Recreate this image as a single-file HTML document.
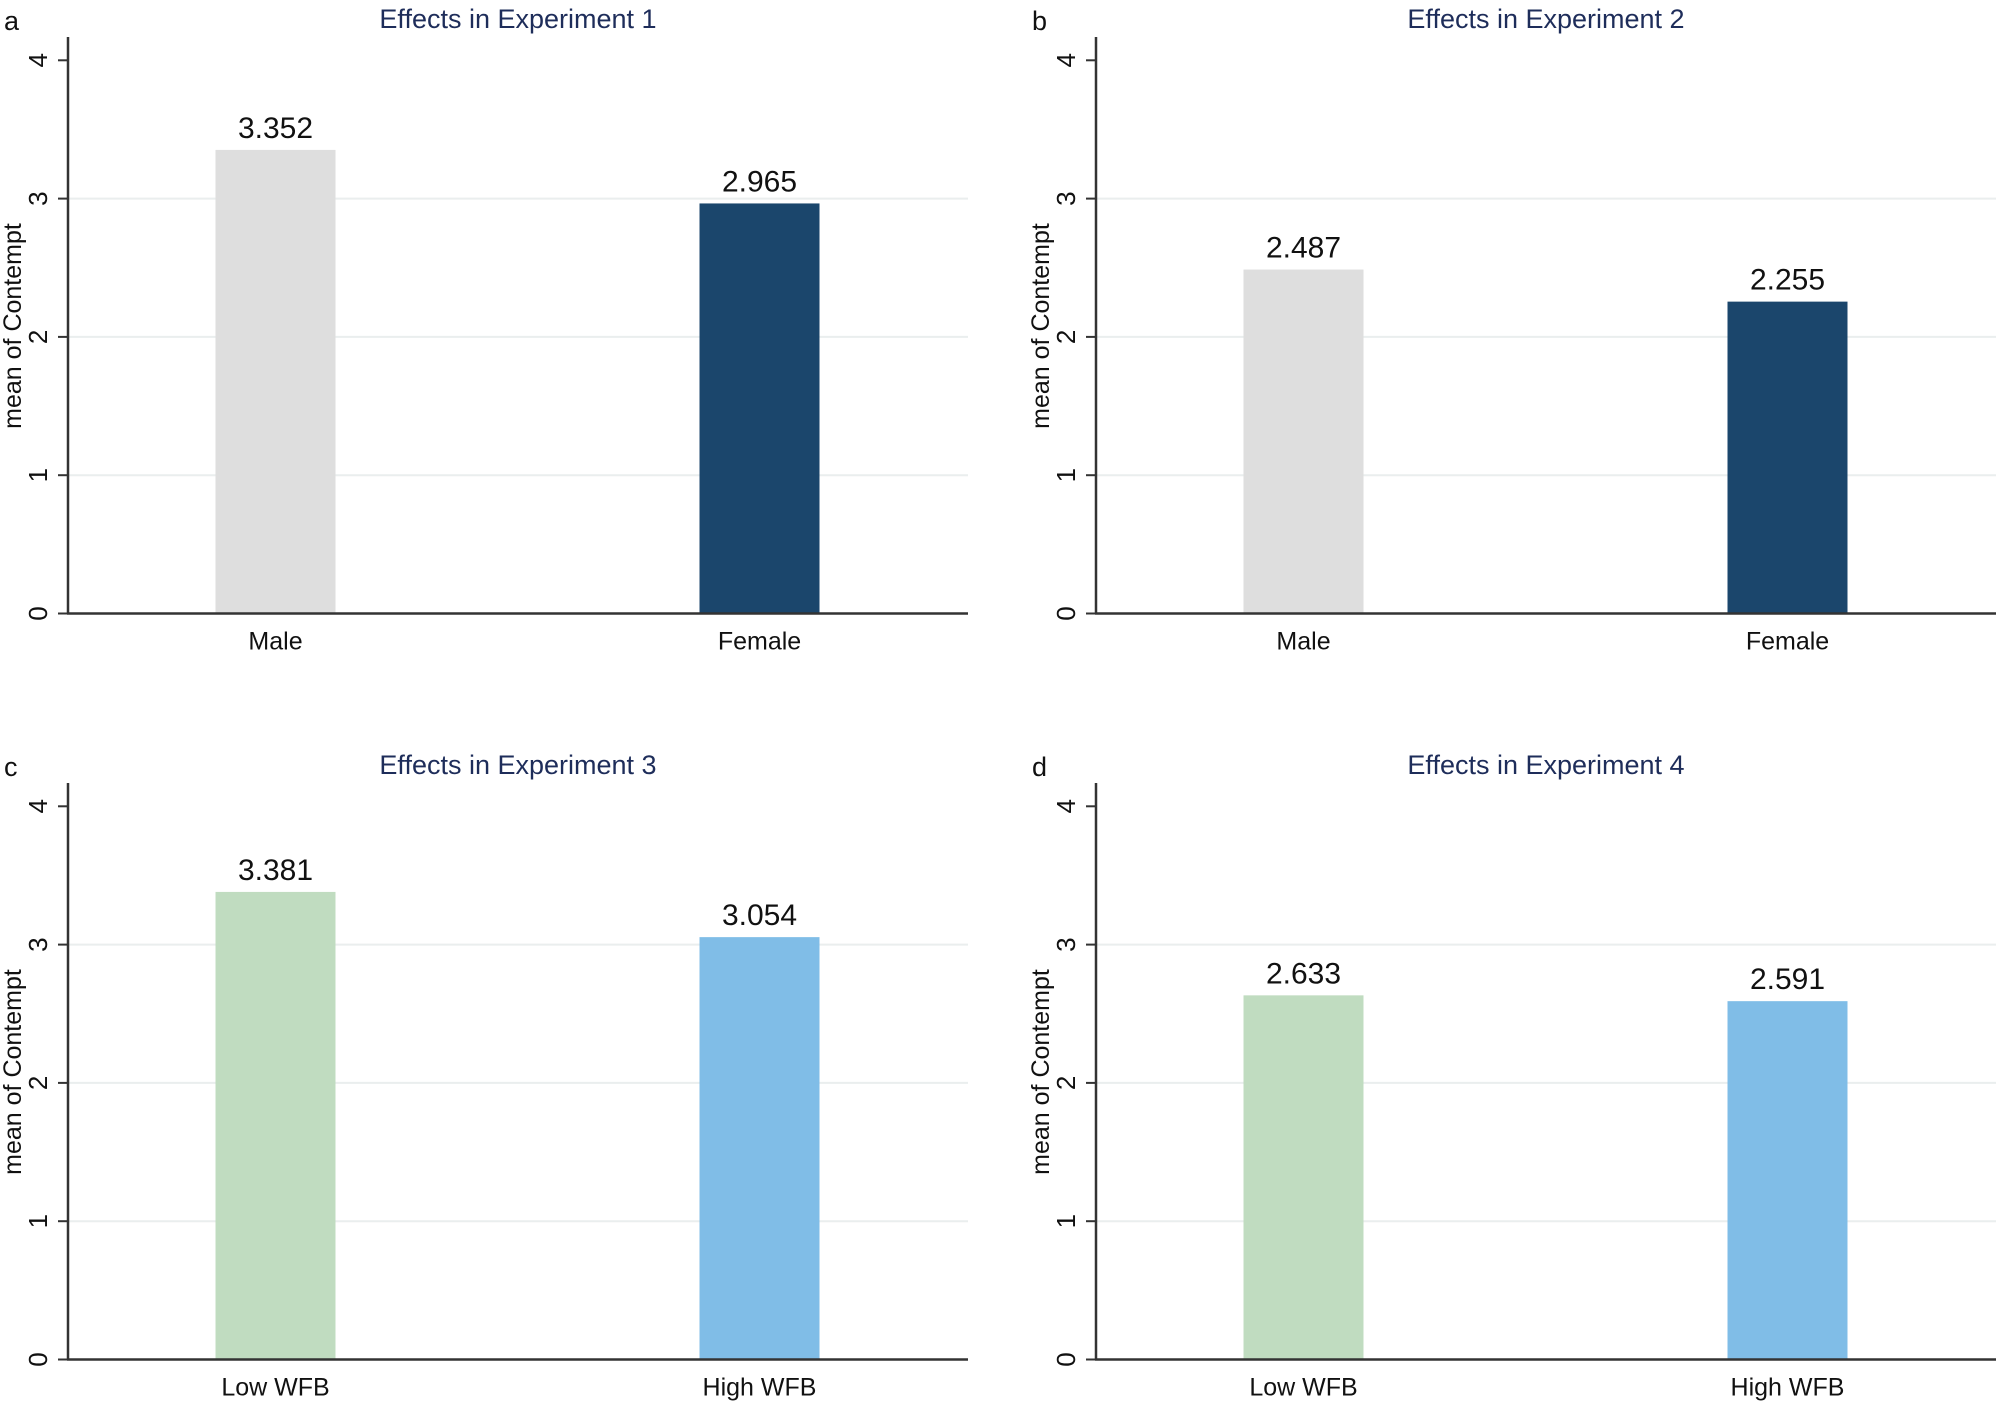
<!DOCTYPE html>
<html><head><meta charset="utf-8"><style>
html,body{margin:0;padding:0;background:#fff;}
svg{display:block;font-family:"Liberation Sans",Arial,sans-serif;}
</style></head><body>
<svg id="chart" width="2000" height="1405" viewBox="0 0 2000 1405" xmlns="http://www.w3.org/2000/svg"></svg>
<script>
const panelLetters = ["a","b","c","d"];
const panelTitles = ["Effects in Experiment 1","Effects in Experiment 2","Effects in Experiment 3","Effects in Experiment 4"];
const catsGender = ["Male","Female"];
const catsWFB = ["Low WFB","High WFB"];
const values1 = [3.352, 2.965];
const values2 = [2.487, 2.255];
const values3 = [3.381, 3.054];
const values4 = [2.633, 2.591];
const valueLabels1 = ["3.352","2.965"];
const valueLabels2 = ["2.487","2.255"];
const valueLabels3 = ["3.381","3.054"];
const valueLabels4 = ["2.633","2.591"];
const yTicks = [0,1,2,3,4];

const NS="http://www.w3.org/2000/svg";
const svg=document.getElementById('chart');
function mk(tag,attrs,parent){const e=document.createElementNS(NS,tag);for(const k in attrs)e.setAttribute(k,attrs[k]);(parent||svg).appendChild(e);return e;}

const panels=[
 {ox:0, oy:0, cats:catsGender, vals:values1, labs:valueLabels1, colors:["#dedede","#1b466c"]},
 {ox:1028, oy:0, cats:catsGender, vals:values2, labs:valueLabels2, colors:["#dedede","#1b466c"]},
 {ox:0, oy:746, cats:catsWFB, vals:values3, labs:valueLabels3, colors:["#c0dcc0","#80bde7"]},
 {ox:1028, oy:746, cats:catsWFB, vals:values4, labs:valueLabels4, colors:["#c0dcc0","#80bde7"]}
];

panels.forEach((p,i)=>{
  const g=mk('g',{transform:`translate(${p.ox},${p.oy})`});
  
  
  const axX=68, axR=968, y0=613.5, unit=138.3, axTop=37;
  const yS=v=>y0-v*unit;
  const centers=[275.5,759.5], bw=120;
  yTicks.forEach(t=>{
    if(t>0&&t<4){const gl=mk('line',{x1:axX,x2:axR,y1:yS(t),y2:yS(t),stroke:'#eaeeee','stroke-width':2},g);
      
      }
  });
  p.vals.forEach((v,j)=>{
    const r=mk('rect',{x:centers[j]-bw/2,y:yS(v),width:bw,height:y0-yS(v),fill:p.colors[j]},g);
    
    
    const t=mk('text',{x:centers[j],y:yS(v)-12,'text-anchor':'middle','font-size':30,fill:'#111'},g);
    t.textContent=p.labs[j];
    
    
    const xl=mk('text',{x:centers[j],y:y0+36,'text-anchor':'middle','font-size':25,fill:'#111'},g);
    xl.textContent=p.cats[j];
    
    
  });
  const ya=mk('line',{x1:axX,x2:axX,y1:axTop,y2:y0+1,stroke:'#333','stroke-width':2.5},g);
  
  
  const xa=mk('line',{x1:axX-1,x2:axR,y1:y0,y2:y0,stroke:'#333','stroke-width':2.5},g);
  
  
  yTicks.forEach(t=>{
    const tk=mk('line',{x1:axX-10,x2:axX,y1:yS(t),y2:yS(t),stroke:'#333','stroke-width':2},g);
    
    
    const tl=mk('text',{x:0,y:0,'text-anchor':'middle','font-size':26,fill:'#111',transform:`translate(47,${yS(t)}) rotate(-90)`},g);
    tl.textContent=String(t);
    
    
  });
  const yt=mk('text',{x:0,y:0,'text-anchor':'middle','font-size':25,fill:'#111',transform:`translate(21,326) rotate(-90)`},g);
  yt.textContent='mean of Contempt';
  
  
  const tt=mk('text',{x:518,y:28,'text-anchor':'middle','font-size':27,fill:'#1e2d5a'},g);
  tt.textContent=panelTitles[i];
  
  
  const lt=mk('text',{x:4,y:30,'font-size':27,fill:'#111'},g);
  lt.textContent=panelLetters[i];
  
  
});
</script>
</body></html>
